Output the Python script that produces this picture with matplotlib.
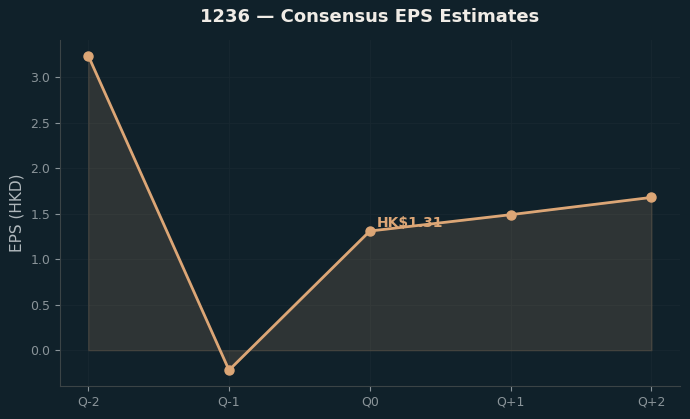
import matplotlib
matplotlib.use('Agg')
import matplotlib.pyplot as plt
import numpy as np

# Data
quarters = ['Q-2', 'Q-1', 'Q0', 'Q+1', 'Q+2']
eps = [3.24, -0.22, 1.31, 1.49, 1.68]
current_label = 'HK$1.31'

bg = '#10212a'
accent = '#dca676'
muted = '#8a9499'

fig, ax = plt.subplots(figsize=(6.9, 4.19), dpi=100)
fig.patch.set_facecolor(bg)
ax.set_facecolor(bg)

x = np.arange(len(quarters))
ax.fill_between(x, eps, 0, color=accent, alpha=0.15, linewidth=1)
ax.plot(x, eps, color=accent, linewidth=2, marker='o', markersize=6.5, zorder=4)

ax.annotate(current_label, xy=(2, eps[2]), xytext=(5, 1), textcoords='offset points',
            color=accent, fontsize=10, fontweight='bold', ha='left', va='bottom', zorder=3)

ax.set_xticks(x)
ax.set_xticklabels(quarters)
ax.set_ylabel('EPS (HKD)', color='#b0b8bc', fontsize=11)
ax.set_title('1236 — Consensus EPS Estimates', color='#f0ece6', fontsize=13,
             fontweight='bold', pad=13)

ax.tick_params(colors=muted, labelsize=9)
for s in ['top', 'right']:
    ax.spines[s].set_visible(False)
for s in ['left', 'bottom']:
    ax.spines[s].set_color('#3b4446')
ax.grid(True, color='#182830', linewidth=0.6)
ax.set_axisbelow(True)

plt.subplots_adjust(left=0.087, right=0.985, top=0.905, bottom=0.079)
plt.savefig('out.png', dpi=100, facecolor=bg)
plt.close()
